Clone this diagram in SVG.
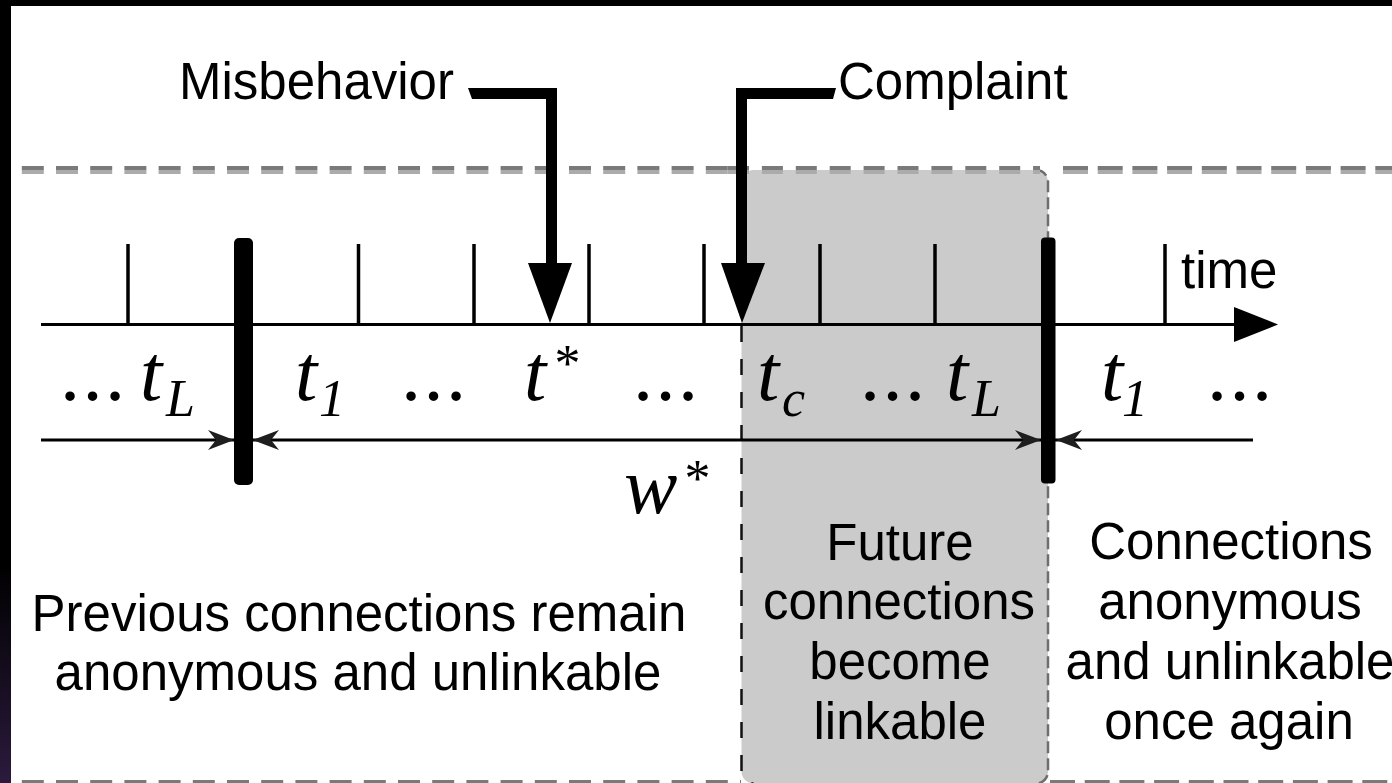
<svg xmlns="http://www.w3.org/2000/svg" width="1392" height="783" viewBox="0 0 1392 783">
  <defs>
    <linearGradient id="edgeShade" x1="0" y1="0" x2="0" y2="1">
      <stop offset="0" stop-color="#000"/>
      <stop offset="0.72" stop-color="#000"/>
      <stop offset="1" stop-color="#2b1a3d"/>
    </linearGradient>
    <!-- small stealth head used on the w* span, tip at the origin, pointing right -->
    <path id="spanHead" d="M0,0 L-26,-10 L-18,0 L-26,10 Z"/>
  </defs>
  <style>
    .sans { font-family: "Liberation Sans", Arial, sans-serif; font-size: 51px; fill: #000; }
    .math { font-family: "Liberation Serif", "Times New Roman", serif; font-style: italic; font-size: 80px; fill: #000; }
    .sub { font-size: 52px; }
    .dots { letter-spacing: 2.5px; }
    .tick { stroke: #000; stroke-width: 3.5; }
    .axis { stroke: #000; stroke-width: 3; fill: none; }
    .frameDark { stroke: #7a7a7a; stroke-width: 4; fill: none; }
    .frameLight { stroke: #ababab; stroke-width: 4; fill: none; }
    .bar { fill: #000; }
    .head { fill: #1e1e1e; }
    .pointer { fill: #000; }
  </style>

  <!-- page background and border -->
  <rect x="0" y="0" width="1392" height="783" fill="#000"/>
  <rect x="0" y="0" width="11" height="783" fill="url(#edgeShade)"/>
  <rect x="11" y="6" width="1381" height="777" fill="#fff"/>

  <!-- shaded linkable window -->
  <g id="linkable-window">
    <rect x="741.5" y="170" width="306.5" height="613.5" rx="12" ry="12" fill="#cbcbcb"/>
    <path d="M741.5,326 L741.5,771.5 A12,12 0 0 0 753.5,783.5" fill="none" stroke="#111" stroke-width="2.5" stroke-dasharray="16 17"/>
    <path d="M1036,170 A12,12 0 0 1 1048,182 L1048,771.5 A12,12 0 0 1 1036,783.5" fill="none" stroke="#6e6e6e" stroke-width="2.5" stroke-dasharray="12 5"/>
  </g>

  <!-- dashed frame -->
  <g id="frame">
    <line class="frameDark" x1="11" y1="168" x2="736" y2="168" stroke-dasharray="22 12.2" stroke-dashoffset="23.4"/>
    <line class="frameLight" x1="11" y1="172" x2="736" y2="172" stroke-dasharray="22 12.2" stroke-dashoffset="23.4"/>
    <line class="frameDark" x1="728" y1="168" x2="1040" y2="168" stroke-dasharray="21 12.9"/>
    <line class="frameLight" x1="728" y1="172" x2="1040" y2="172" stroke-dasharray="21 12.9"/>
    <line class="frameDark" x1="1063" y1="168" x2="1392" y2="168" stroke-dasharray="25 9.7"/>
    <line class="frameLight" x1="1063" y1="172" x2="1392" y2="172" stroke-dasharray="25 9.7"/>
    <line class="frameDark" x1="11" y1="782" x2="741" y2="782" stroke-dasharray="22 12.2" stroke-dashoffset="23.4"/>
    <line class="frameDark" x1="1050" y1="782" x2="1392" y2="782" stroke-dasharray="25 9.7"/>
  </g>

  <!-- time axis with period ticks -->
  <g id="time-axis">
    <line class="axis" x1="41" y1="324.5" x2="1240" y2="324.5"/>
    <polygon points="1234,307 1278,324.5 1234,342" fill="#000"/>
    <line class="tick" x1="128" y1="244" x2="128" y2="324"/>
    <line class="tick" x1="358.5" y1="244" x2="358.5" y2="324"/>
    <line class="tick" x1="474" y1="244" x2="474" y2="324"/>
    <line class="tick" x1="589" y1="244" x2="589" y2="324"/>
    <line class="tick" x1="704" y1="244" x2="704" y2="324"/>
    <line class="tick" x1="820" y1="244" x2="820" y2="324"/>
    <line class="tick" x1="935" y1="244" x2="935" y2="324"/>
    <line class="tick" x1="1165" y1="244" x2="1165" y2="324"/>
    <text class="sans" x="1181" y="288">time</text>
  </g>

  <!-- linkability-window boundaries -->
  <g id="window-start">
    <rect class="bar" x="234" y="238" width="19" height="247" rx="5" ry="5"/>
  </g>
  <g id="window-end">
    <rect class="bar" x="1041" y="237.5" width="14.5" height="246" rx="4" ry="4"/>
  </g>

  <!-- period labels -->
  <g id="period-labels">
    <text class="math dots" x="62" y="400">...</text>
    <text class="math" x="140" y="400">t<tspan class="sub" x="166" y="416">L</tspan></text>

    <text class="math" x="295" y="400">t<tspan class="sub" x="319" y="416">1</tspan></text>

    <text class="math dots" x="403" y="400">...</text>

    <text class="math" x="524" y="400">t<tspan class="sub" x="552" y="381">*</tspan></text>

    <text class="math dots" x="635" y="400">...</text>

    <text class="math" x="757" y="400">t<tspan class="sub" x="782" y="416">c</tspan></text>

    <text class="math dots" x="862" y="400">...</text>
    <text class="math" x="946" y="400">t<tspan class="sub" x="972" y="416">L</tspan></text>

    <text class="math" x="1101" y="400">t<tspan class="sub" x="1122" y="416">1</tspan></text>

    <text class="math dots" x="1209" y="400">...</text>
  </g>

  <g id="window-label">
    <text class="math" x="624" y="513">w<tspan class="sub" x="682" y="496">*</tspan></text>
  </g>

  <!-- event labels -->
  <g id="misbehavior">
    <text class="sans" x="179" y="99">Misbehavior</text>
  </g>
  <g id="complaint">
    <text class="sans" x="838" y="99">Complaint</text>
  </g>

  <!-- explanatory blocks -->
  <g id="previous-connections">
    <text class="sans" text-anchor="middle" x="359" y="631">Previous connections remain</text>
    <text class="sans" text-anchor="middle" x="358" y="690">anonymous and unlinkable</text>
  </g>
  <g id="future-connections">
    <text class="sans" text-anchor="middle" x="900" y="560">Future</text>
    <text class="sans" text-anchor="middle" x="899" y="619">connections</text>
    <text class="sans" text-anchor="middle" x="900" y="679">become</text>
    <text class="sans" text-anchor="middle" x="900" y="739">linkable</text>
  </g>
  <g id="later-connections">
    <text class="sans" text-anchor="middle" x="1231" y="559">Connections</text>
    <text class="sans" text-anchor="middle" x="1230" y="619">anonymous</text>
    <text class="sans" text-anchor="middle" x="1230" y="679">and unlinkable</text>
    <text class="sans" text-anchor="middle" x="1229" y="739">once again</text>
  </g>

  <!-- connectors -->
  <g id="connectors">
    <!-- Misbehavior pointer to t* -->
    <path class="pointer" d="M468,88 L557,88 L557,264 L546,264 L546,99 L472,99 Z"/>
    <polygon class="pointer" points="528,263 572,263 550,323"/>
    <!-- Complaint pointer to t_c -->
    <path class="pointer" d="M836,88 L736,88 L736,264 L747,264 L747,99 L833,99 Z"/>
    <polygon class="pointer" points="721,263 765,263 742,323"/>
    <!-- w* span between the two boundaries -->
    <line class="axis" x1="41" y1="440" x2="1253" y2="440" stroke-width="3.5"/>
    <use href="#spanHead" class="head" transform="translate(234,440)"/>
    <use href="#spanHead" class="head" transform="translate(253,440) scale(-1,1)"/>
    <use href="#spanHead" class="head" transform="translate(1041,440)"/>
    <use href="#spanHead" class="head" transform="translate(1056,440) scale(-1,1)"/>
  </g>
</svg>
